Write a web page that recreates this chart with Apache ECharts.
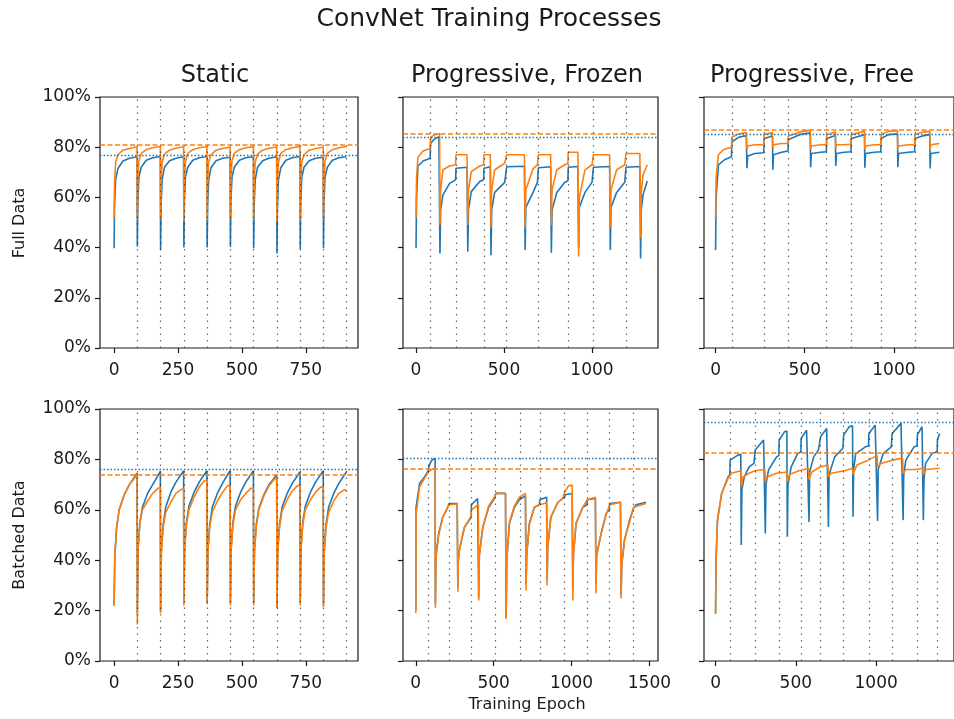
<!DOCTYPE html>
<html lang="en">
<head>
<meta charset="UTF-8">
<title>ConvNet Training Processes</title>
<script src="https://cdn.jsdelivr.net/npm/echarts@6/dist/echarts.min.js"></script>
<style>
  html, body { margin: 0; padding: 0; background: #fff; }
  #main { width: 954px; height: 719px; }
</style>
</head>
<body>
<div id="main"></div>
<script>
// ---- data: [epoch, accuracy %] ----
// Static, full data
const staticFullBlue = [
  [0,39.7],[2,57],[6,67],[15,71.5],[35,74.5],[60,75.6],[90,76.2],
  [91,40.4],[93,58],[97,68],[106,72],[126,74.8],[151,75.8],[181,76.3],
  [182,39],[184,57],[188,67],[197,72],[217,74.6],[242,75.6],[272,76.2],
  [273,40],[275,58],[279,68],[288,72],[308,74.8],[333,75.8],[363,76.3],
  [364,40],[366,57],[370,67],[379,71.8],[399,74.6],[424,75.6],[454,76],
  [455,40.2],[457,58],[461,68],[470,72],[490,74.8],[515,75.8],[545,76.2],
  [546,39.7],[548,57],[552,67],[561,72],[581,74.6],[606,75.6],[636,76.2],
  [637,37.7],[639,56],[643,67],[652,71.8],[672,74.8],[697,75.8],[727,76.3],
  [728,39.3],[730,57],[734,68],[743,72],[763,74.6],[788,75.6],[818,76],
  [819,39.7],[821,58],[825,68],[834,72],[854,74.8],[879,75.8],[909,76.2]
];
const staticFullOrange = [
  [0,51.7],[2,66],[6,74],[15,77],[35,78.8],[60,79.5],[90,80.2],
  [91,51],[93,67],[97,74.5],[106,77.5],[126,79],[151,79.8],[181,80.3],
  [182,51.5],[184,66],[188,74],[197,77.2],[217,78.8],[242,79.6],[272,80.2],
  [273,50.5],[275,66],[279,74],[288,77.5],[308,79],[333,79.8],[363,80.3],
  [364,51],[366,66],[370,74],[379,77],[399,78.8],[424,79.5],[454,80],
  [455,51.5],[457,67],[461,74.5],[470,77.5],[490,79],[515,79.8],[545,80.2],
  [546,51],[548,66],[552,74],[561,77.2],[581,78.8],[606,79.6],[636,80.1],
  [637,50.5],[639,66],[643,74],[652,77.5],[672,79],[697,79.8],[727,80.3],
  [728,51],[730,66],[734,74],[743,77],[763,78.8],[788,79.5],[818,80],
  [819,51.2],[821,67],[825,74.5],[834,77.5],[854,79],[879,79.8],[909,80.3]
];
// Progressive, Frozen, full data
const frozenFullBlue = [
  [0,39.7],[3,60],[11,72.5],[40,74.5],[80,75.6],[83,81.5],[100,83],[130,84.2],[134,84.3],
  [136,37.7],[140,55],[153,61],[191,65.6],[225,67],[227,71.6],[290,72],
  [294,38.4],[298,55],[314,62.3],[362,66.3],[384,67],[386,71.6],[422,72.2],
  [426,37],[430,55],[447,62],[504,66],[513,66.5],[515,72.2],[616,72.4],
  [620,39],[624,56],[665,62],[690,66],[695,71.8],[765,72.2],
  [769,38],[773,55],[800,62],[845,66],[863,66.5],[865,72],[920,72.3],
  [924,40],[928,56],[960,62],[1000,66],[1006,66.5],[1008,72],[1100,72.3],
  [1104,39],[1108,56],[1140,62],[1186,66],[1191,66.5],[1193,72],[1272,72.3],
  [1276,35.7],[1280,55],[1290,61],[1314,66.5]
];
const frozenFullOrange = [
  [0,52],[3,68],[11,76],[40,78.5],[80,79.5],[83,84],[110,85],[134,85.5],
  [136,49],[140,63],[153,71],[191,72.5],[225,73],[227,77],[290,77],
  [294,49],[298,63],[314,70.3],[362,72.5],[384,73],[386,77],[422,77],
  [426,48],[430,63],[447,71],[504,73.6],[513,73.8],[515,77],[616,77],
  [620,48],[624,63],[665,71.5],[690,73],[695,77],[765,77],
  [769,49],[773,63],[800,71],[845,73],[863,73.5],[865,78],[920,78],
  [924,36.5],[928,60],[960,71],[1000,73],[1006,73.5],[1008,77],[1100,77],
  [1104,48],[1108,63],[1140,71],[1186,73],[1191,73.5],[1193,77.5],[1272,77.5],
  [1276,43.7],[1280,62],[1290,69],[1314,73]
];
// Progressive, Free, full data
const freeFullBlue = [
  [0,39],[3,60],[16,73],[50,75],[89,76.2],[91,82],[130,84],[172,84.6],
  [176,71.6],[180,76.5],[220,77.5],[270,77.8],[272,83.5],[319,84.5],
  [321,71],[325,77],[370,78],[406,78.5],[408,83],[470,85],[531,85.7],
  [533,72],[537,77.5],[590,78],[621,78.2],[623,83.5],[672,84.7],
  [674,72.5],[678,77.5],[720,78],[759,78.2],[761,83.5],[835,85],
  [837,71.8],[841,77.5],[890,78],[926,78.2],[928,83.5],[970,85],[1020,85.3],
  [1022,72],[1026,77.5],[1080,78],[1116,78.2],[1118,83.5],[1160,84.5],[1201,85],
  [1203,71.5],[1207,77.5],[1255,78]
];
const freeFullOrange = [
  [0,51.8],[3,68],[16,77],[43,79],[89,80],[91,84],[130,85.3],[172,85.8],
  [176,79],[180,80.5],[220,81],[270,81],[272,85],[319,85.8],
  [321,79.5],[325,81],[370,81.5],[406,81.5],[408,84.5],[470,86],[531,86.8],
  [533,79],[537,80.5],[590,81],[621,81],[623,85],[672,86],
  [674,79.5],[678,81],[720,81],[759,81.2],[761,85],[835,86.3],
  [837,79],[841,80.5],[890,81],[926,81],[928,85],[970,86.3],[1020,86.6],
  [1022,79],[1026,80.5],[1080,81],[1116,81],[1118,85],[1160,86],[1201,86.3],
  [1203,79],[1207,81],[1255,81.5]
];
// Static, batched data
const staticBatchBlue = [
  [0,22],[3,42],[10,53],[20,60],[40,66],[60,70],[80,73],[90,74.5],
  [91,19],[94,45],[101,55],[111,61],[131,66.5],[151,70],[171,73.5],[181,75.2],
  [182,19.5],[185,44],[192,54],[202,61],[222,67],[242,71],[262,74],[272,75.5],
  [273,23],[276,45],[283,55],[293,61.5],[313,67],[333,71],[353,74],[363,75.5],
  [364,23],[367,44],[374,54],[384,61],[404,66.5],[424,70.5],[444,74],[454,75.5],
  [455,23],[458,45],[465,55],[475,61.5],[495,67],[515,71],[535,74],[545,75.5],
  [546,23],[549,44],[556,54],[566,60.5],[586,66],[606,70],[626,72.5],[636,74],
  [637,21],[640,44],[647,54],[657,61],[677,66.5],[697,70.5],[717,73.5],[727,75],
  [728,23],[731,45],[738,55],[748,61.5],[768,67],[788,71],[808,74],[818,75.5],
  [819,22],[822,44],[829,54],[839,61],[859,66.5],[879,70.5],[899,73.5],[909,75]
];
const staticBatchOrange = [
  [0,22],[3,42],[10,53],[20,60],[40,66],[60,70],[80,72.5],[90,74],
  [91,14.5],[94,44],[101,55],[111,60],[131,63.5],[151,66.5],[171,68.5],[181,69],
  [182,19],[185,43],[192,53],[202,59],[222,63],[242,66.5],[262,68],[272,68.5],
  [273,22],[276,44],[283,54],[293,60],[313,65],[333,69],[353,71.5],[363,71.8],
  [364,22.5],[367,43],[374,53],[384,59],[404,63.5],[424,67],[444,69.5],[454,69.8],
  [455,22],[458,44],[465,54],[475,60],[495,64],[515,66.5],[535,68.5],[545,68.5],
  [546,22],[549,43],[556,53],[566,60],[586,65.5],[606,69.5],[626,72],[636,73],
  [637,21],[640,43],[647,53],[657,59.5],[677,64],[697,67.5],[717,69.5],[727,69.8],
  [728,22],[731,44],[738,54],[748,60],[768,64],[788,67],[808,69],[818,69],
  [819,21.5],[822,43],[829,53],[839,59],[859,63.5],[879,66.5],[899,67.8],[909,67.8]
];
// Progressive, Frozen, batched data
const frozenBatchBlue = [
  [0,20],[2,61],[24,70.4],[56,73],[81,75.5],[83,77],[100,79.5],[124,80.4],
  [126,22.8],[130,42],[147,50.6],[173,57],[205,61],[214,62.5],[266,62.5],
  [270,29.4],[273,40],[280,44],[312,53],[355,57],[357,62],[397,64.5],[402,64.7],
  [404,25.4],[408,42],[430,53],[468,61],[505,64.5],[514,66.5],[576,66.5],
  [580,17],[584,40],[601,54.6],[633,61],[665,64],[670,64.5],[704,65.5],
  [708,30.7],[712,42],[729,54.6],[761,61],[794,62],[796,64],[840,65],
  [843,32],[847,45],[867,57],[910,62.8],[942,64.5],[956,65],[958,66],[1004,66.5],
  [1008,28],[1012,42],[1029,54.6],[1072,61],[1099,62],[1101,64],[1153,64.5],
  [1157,30.7],[1161,42],[1190,50.6],[1222,58.5],[1243,60],[1245,62.5],[1314,63],
  [1318,26],[1322,38],[1340,48],[1372,55.9],[1397,60.5],[1414,62],[1478,63]
];
const frozenBatchOrange = [
  [0,19],[2,58],[24,69],[56,72.5],[81,75],[100,76],[124,76.5],
  [126,21],[130,41],[147,50],[173,57],[205,61],[214,62],[266,62.3],
  [270,27.5],[273,40],[280,44],[312,53],[355,57.5],[357,60],[402,62],
  [404,24],[408,42],[430,53],[468,61.5],[505,65],[514,66.5],[576,66.5],
  [580,16.8],[584,40],[601,55],[633,61.5],[665,65],[670,65.5],[704,66.5],
  [708,28],[712,42],[729,54],[761,61],[796,62],[840,62.8],
  [843,30],[847,45],[867,57],[910,62.8],[942,64.5],[956,67],[980,69.5],[1004,69.8],
  [1008,24],[1012,42],[1029,54.6],[1072,61],[1101,64],[1153,65],
  [1157,26.8],[1161,42],[1190,50.6],[1222,58],[1245,62],[1314,63],
  [1318,24.8],[1322,38],[1340,48],[1372,55],[1399,61],[1478,62.5]
];
// Progressive, Free, batched data
const freeBatchBlue = [
  [0,18.8],[3,40],[12,55.9],[38,66.5],[78,73.1],[89,74],[91,79.7],[139,81.7],[157,82],
  [160,46],[164,68],[179,73.1],[209,77],[239,78.4],[245,79],[247,83.7],[299,87.7],[307,88],
  [310,50.6],[314,70],[330,75.8],[380,81],[394,81.5],[396,87.7],[430,91],[444,91.3],
  [447,49.3],[451,70],[471,77],[511,82.3],[531,83],[533,88.3],[567,91.6],[579,91.8],
  [582,55.2],[586,75],[611,81],[641,83.7],[652,84],[654,89],[692,92.3],[700,92.5],
  [703,53.2],[707,74],[742,81],[793,84.4],[796,84.6],[798,89.7],[833,93],[853,93.3],
  [856,57.2],[860,76],[873,82.3],[933,85],[953,85.3],[955,90.3],[994,93.6],[1006,94],
  [1009,55.6],[1013,76],[1044,82.3],[1094,85],[1098,85.2],[1100,90.3],[1155,94.3],[1165,94.5],
  [1168,55.9],[1172,74],[1185,79.7],[1236,85],[1255,85.3],[1257,89.7],[1286,93],[1291,93.2],
  [1294,55.9],[1298,72],[1308,78.4],[1348,82.3],[1380,83],[1382,87.7],[1396,90.3]
];
const freeBatchOrange = [
  [0,18.8],[3,40],[12,55.9],[38,66.5],[78,72.5],[100,74.5],[157,75.5],
  [160,69],[170,73],[209,74.5],[245,75.5],[307,76],
  [310,71],[320,73],[380,74.5],[444,75],
  [447,71],[460,74],[520,75.5],[579,76.5],
  [582,72],[600,75],[650,77],[700,77.8],
  [703,73.1],[720,74.5],[800,75.5],[853,76.4],
  [856,74],[880,77.8],[950,79.7],[1006,81.5],
  [1009,77],[1030,78.4],[1100,79.7],[1165,80.5],
  [1168,74.4],[1185,76],[1250,76],[1291,76.5],
  [1294,74],[1310,76],[1396,76.5]
];

// phase boundaries (vertical dotted lines)
const staticPhases = [91, 182, 273, 364, 455, 546, 637, 728, 819, 910];
const frozenFullPhases = [83, 227, 386, 515, 695, 865, 1008, 1193];
const freeFullPhases = [91, 272, 408, 623, 761, 928, 1118];
const frozenBatchPhases = [83, 214, 357, 512, 670, 796, 956, 1101, 1245, 1399];
const freeBatchPhases = [89, 245, 396, 533, 654, 798, 955, 1100, 1257, 1382];

// best accuracies (horizontal lines): [blue, orange]
const bestLevels = [[76.9, 81.1], [83.8, 85.3], [85.3, 86.9], [76, 74], [80.5, 76.2], [94.6, 82.6]];

const xTicks = [[0, 250, 500, 750], [0, 500, 1000], [0, 500, 1000],
                [0, 250, 500, 750], [0, 500, 1000, 1500], [0, 500, 1000]];
const panelTitles = ['Static', 'Progressive, Frozen', 'Progressive, Free'];
const rowNames = ['Full Data', 'Batched Data'];

const BLUE = '#1f77b4', ORANGE = '#ff7f0e';
const FONT = 'DejaVu Sans';

const panels = [
  {blue: staticFullBlue, orange: staticFullOrange, phases: staticPhases, xr: [-55, 954]},
  {blue: frozenFullBlue, orange: frozenFullOrange, phases: frozenFullPhases, xr: [-74, 1375]},
  {blue: freeFullBlue, orange: freeFullOrange, phases: freeFullPhases, xr: [-65, 1337]},
  {blue: staticBatchBlue, orange: staticBatchOrange, phases: staticPhases, xr: [-55, 954]},
  {blue: frozenBatchBlue, orange: frozenBatchOrange, phases: frozenBatchPhases, xr: [-82, 1555]},
  {blue: freeBatchBlue, orange: freeBatchOrange, phases: freeBatchPhases, xr: [-72, 1485]}
];

const colLeft = [100, 403, 704], colWidth = [258, 255, 258];
const rowTop = [97, 409], rowHeight = [251, 252];

const grids = [], xAxes = [], yAxes = [], series = [];
panels.forEach((p, i) => {
  const r = Math.floor(i / 3), c = i % 3;
  grids.push({
    left: colLeft[c], top: rowTop[r], width: colWidth[c], height: rowHeight[r],
    show: true, borderColor: '#1a1a1a', borderWidth: 1.2, backgroundColor: 'transparent'
  });
  xAxes.push({
    type: 'value', gridIndex: i, min: p.xr[0], max: p.xr[1], position: 'bottom',
    splitLine: {show: false}, axisLine: {show: false, onZero: false},
    axisTick: {show: true, inside: false, length: 5, customValues: xTicks[i], lineStyle: {color: '#1a1a1a', width: 1.2}},
    axisLabel: {show: true, customValues: xTicks[i], formatter: v => String(v),
      margin: 14, fontSize: 17, fontFamily: FONT, color: '#1a1a1a'}
  });
  yAxes.push({
    type: 'value', gridIndex: i, min: 0, max: 100, interval: 20, position: 'left',
    splitLine: {show: false}, axisLine: {show: false, onZero: false},
    axisTick: {show: true, inside: false, length: 5, lineStyle: {color: '#1a1a1a', width: 1.2}},
    axisLabel: {show: c === 0, formatter: '{value}%', margin: 9, fontSize: 17, fontFamily: FONT, color: '#1a1a1a'}
  });
  series.push({
    type: 'line', xAxisIndex: i, yAxisIndex: i, data: p.blue,
    showSymbol: false, symbol: 'none', lineStyle: {color: BLUE, width: 1.6}, itemStyle: {color: BLUE},
    markLine: {
      silent: true, symbol: ['none', 'none'], label: {show: false}, animation: false,
      data: p.phases.map(v => ({xAxis: v, lineStyle: {color: '#333', type: [1.5, 5], width: 1.2, opacity: 0.75}}))
        .concat([{yAxis: bestLevels[i][0], lineStyle: {color: BLUE, type: [1.5, 2], width: 1.4, opacity: 1}}])
    }
  });
  series.push({
    type: 'line', xAxisIndex: i, yAxisIndex: i, data: p.orange,
    showSymbol: false, symbol: 'none', lineStyle: {color: ORANGE, width: 1.6}, itemStyle: {color: ORANGE},
    markLine: {
      silent: true, symbol: ['none', 'none'], label: {show: false}, animation: false,
      data: [{yAxis: bestLevels[i][1], lineStyle: {color: ORANGE, type: [5, 2.5], width: 1.5, opacity: 1}}]
    }
  });
});

const texts = [
  {text: 'ConvNet Training Processes', x: 489, y: 19, size: 25},
  {text: panelTitles[0], x: 215, y: 76, size: 24},
  {text: panelTitles[1], x: 527, y: 76, size: 24},
  {text: panelTitles[2], x: 812, y: 76, size: 24},
  {text: 'Training Epoch', x: 527, y: 705, size: 16},
  {text: rowNames[0], x: 20, y: 223, size: 16, rot: true},
  {text: rowNames[1], x: 20, y: 535, size: 16, rot: true}
];

const chart = echarts.init(document.getElementById('main'), null, {renderer: 'canvas'});
chart.setOption({
  animation: false,
  backgroundColor: '#fff',
  grid: grids,
  xAxis: xAxes,
  yAxis: yAxes,
  series: series,
  graphic: texts.map(t => ({
    type: 'text', x: t.x, y: t.y, rotation: t.rot ? Math.PI / 2 : 0,
    style: {text: t.text, fontSize: t.size, fontFamily: FONT, fill: '#1a1a1a', align: 'center', verticalAlign: 'middle'}
  }))
});
</script>
</body>
</html>
